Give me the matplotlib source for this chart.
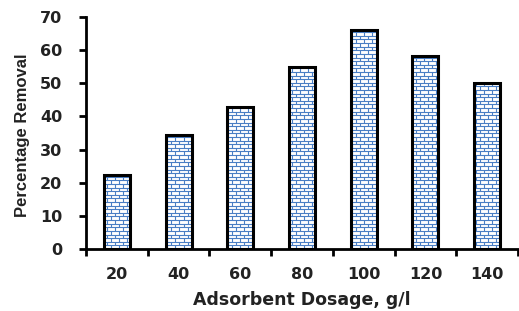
import numpy as np
import matplotlib
matplotlib.use("Agg")
import matplotlib.pyplot as plt
from matplotlib.collections import LineCollection

# data
dosage = ["20", "40", "60", "80", "100", "120", "140"]
removal = [22.4, 34.3, 42.7, 54.8, 66.0, 58.1, 50.2]

plt.rcParams['font.family'] = ['DejaVu Sans']

fig = plt.figure(figsize=(5.19, 3.11), dpi=100)
ax = fig.add_axes([86 / 519, 62 / 311, 432 / 519, 232 / 311])

x = np.arange(len(dosage))
width = 0.42
bars = ax.bar(x, removal, width, color="white", edgecolor="none", zorder=2)

# brick pattern drawn inside each bar
row_h = 1.09      # data units (about 3.6 px)
brick_w = 0.13    # data units (about 8 px)
blue = "#4a7ec4"
for b in bars:
    x0, y0 = b.get_x(), b.get_y()
    x1, y1 = x0 + b.get_width(), y0 + b.get_height()
    segs = []
    n_rows = int(np.ceil((y1 - y0) / row_h)) + 1
    for r in range(n_rows):
        yb = y0 + r * row_h
        segs.append([(x0, yb), (x1, yb)])
        off = 0 if r % 2 == 0 else brick_w / 2
        xv = np.arange(-1.0 + off, 8.0, brick_w)
        for xx in xv[(xv > x0) & (xv < x1)]:
            segs.append([(xx, yb), (xx, min(yb + row_h, y1))])
    lc = LineCollection(segs, colors=blue, linewidths=0.8, zorder=2.5)
    ax.add_collection(lc)
    lc.set_clip_path(b)

ax.bar(x, removal, width, fill=False, edgecolor="black", linewidth=2.2, zorder=3)

ax.set_xlim(-0.5, len(dosage) - 0.5)
ax.set_ylim(0, 70)
ax.set_yticks(np.arange(0, 71, 10))
ax.set_xticks(x)
ax.set_xticklabels(dosage)
ax.set_xticks(np.arange(-0.5, len(dosage), 1), minor=True)

for s in ["top", "right"]:
    ax.spines[s].set_visible(False)
for s in ["left", "bottom"]:
    ax.spines[s].set_linewidth(2)

ax.tick_params(axis="x", which="major", length=0, pad=13, labelsize=11.5)
ax.tick_params(axis="x", which="minor", length=5, width=2, direction="out")
ax.tick_params(axis="y", length=5, width=2, pad=12, labelsize=11.5)
for lab in ax.get_xticklabels() + ax.get_yticklabels():
    lab.set_fontweight("bold")
    lab.set_color("#222222")

ax.set_xlabel("Adsorbent Dosage, g/l", fontsize=12.5, fontweight="bold", color="#222222")
ax.xaxis.set_label_coords(0.5, -0.18)
ax.set_ylabel("Percentage Removal", fontsize=12, fontweight="bold", color="#222222",
              family=["Liberation Sans", "DejaVu Sans"])
ax.yaxis.set_label_coords(-0.13, 0.49)

fig.savefig("out.png", dpi=100)
